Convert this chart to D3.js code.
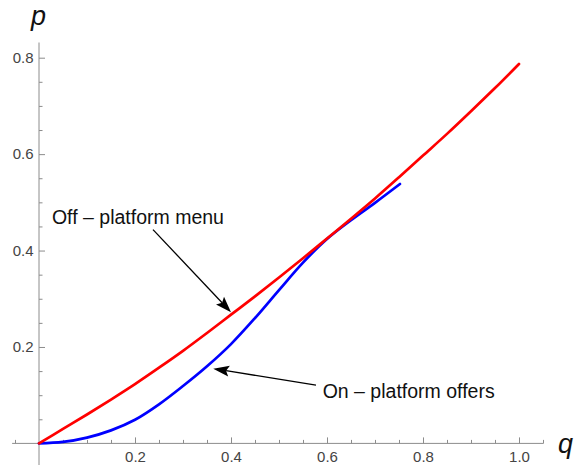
<!DOCTYPE html>
<html>
<head>
<meta charset="utf-8">
<script src="https://cdn.jsdelivr.net/npm/d3@7"></script>
<style>
  html, body { margin: 0; padding: 0; background: #fff; }
  svg { display: block; }
  text { font-family: "Liberation Sans", Arial, sans-serif; }
</style>
</head>
<body>
<svg id="chart" width="575" height="465"></svg>
<script>
// Price p as a function of quality q for the two selling channels
const qOff = [0, 0.05, 0.1, 0.15, 0.2, 0.25, 0.3, 0.35, 0.4, 0.45, 0.5, 0.55, 0.6, 0.65, 0.7, 0.75, 0.8, 0.85, 0.9, 0.95, 1.0];
const pOff = [0, 0.030, 0.060, 0.091, 0.123, 0.157, 0.192, 0.229, 0.267, 0.305, 0.344, 0.384, 0.425, 0.466, 0.508, 0.552, 0.597, 0.642, 0.689, 0.737, 0.787];

const qOn = [0, 0.05, 0.1, 0.15, 0.2, 0.25, 0.3, 0.35, 0.4, 0.45, 0.5, 0.55, 0.6, 0.65, 0.7, 0.752];
const pOn = [0, 0.003, 0.012, 0.027, 0.049, 0.081, 0.119, 0.160, 0.206, 0.260, 0.318, 0.375, 0.424, 0.463, 0.499, 0.538];

const xTicks = [0.2, 0.4, 0.6, 0.8, 1.0];
const yTicks = [0.2, 0.4, 0.6, 0.8];
const xMinorTicks = [-0.05, 0.05, 0.1, 0.15, 0.25, 0.3, 0.35, 0.45, 0.5, 0.55, 0.65, 0.7, 0.75, 0.85, 0.9, 0.95, 1.05];
const yMinorTicks = [0.05, 0.1, 0.15, 0.25, 0.3, 0.35, 0.45, 0.5, 0.55, 0.65, 0.7, 0.75];

const labelOff = "Off – platform menu";
const labelOn = "On – platform offers";

const svg = d3.select("#chart");

const x = d3.scaleLinear().domain([0, 1]).range([39, 519]);
const y = d3.scaleLinear().domain([0, 0.8]).range([443.4, 57.7]);

const axisColor = "#8c8c8c";
const labelColor = "#444";

// axis lines, drawn across the full plot range
svg.append("line")
  .attr("x1", x(-0.056)).attr("x2", x(1.051))
  .attr("y1", y(0)).attr("y2", y(0))
  .attr("stroke", axisColor).attr("stroke-width", 1);
svg.append("line")
  .attr("x1", x(0)).attr("x2", x(0))
  .attr("y1", y(0.8315)).attr("y2", y(-0.05))
  .attr("stroke", axisColor).attr("stroke-width", 1);

function styleAxis(g) {
  g.select(".domain").remove();
  g.attr("font-size", 15).attr("font-family", "'Liberation Sans', Arial, sans-serif");
  g.selectAll(".tick line").attr("stroke", axisColor);
  g.selectAll(".tick text").attr("fill", labelColor);
}

// x axis: ticks point up into the plot, labels below
svg.append("g")
  .attr("transform", `translate(0,${y(0)})`)
  .call(d3.axisBottom(x).tickValues(xMinorTicks).tickSize(-3.5).tickFormat(""))
  .call(styleAxis);
svg.append("g")
  .attr("transform", `translate(0,${y(0)})`)
  .call(d3.axisBottom(x).tickValues(xTicks).tickSize(-6).tickPadding(8).tickFormat(d3.format(".1f")))
  .call(styleAxis);

// y axis: ticks point right, labels on the left
svg.append("g")
  .attr("transform", `translate(${x(0)},0)`)
  .call(d3.axisLeft(y).tickValues(yMinorTicks).tickSize(-3.5).tickFormat(""))
  .call(styleAxis);
svg.append("g")
  .attr("transform", `translate(${x(0)},0)`)
  .call(d3.axisLeft(y).tickValues(yTicks).tickSize(-6).tickPadding(5.5).tickFormat(d3.format(".1f")))
  .call(styleAxis);

// axis titles
svg.append("text")
  .attr("x", 31).attr("y", 25)
  .attr("font-size", 27).attr("font-style", "italic")
  .attr("fill", "#111").text("p");
svg.append("text")
  .attr("x", 558).attr("y", 453)
  .attr("font-size", 27).attr("font-style", "italic")
  .attr("fill", "#111").text("q");

// curves
const line = d3.line().x(d => x(d[0])).y(d => y(d[1])).curve(d3.curveCatmullRom.alpha(0.5));

svg.append("path")
  .datum(d3.zip(qOn, pOn))
  .attr("d", line)
  .attr("fill", "none").attr("stroke", "#0000ff")
  .attr("stroke-width", 2.7).attr("stroke-linecap", "round");

svg.append("path")
  .datum(d3.zip(qOff, pOff))
  .attr("d", line)
  .attr("fill", "none").attr("stroke", "#ff0000")
  .attr("stroke-width", 2.7).attr("stroke-linecap", "round");

// annotations: label plus arrow pointing to the curve (data coordinates)
const notes = [
  { text: labelOff, tx: 0.027, ty: 0.456, from: [0.2375, 0.4435], to: [0.4, 0.272] },
  { text: labelOn, tx: 0.591, ty: 0.0935, from: [0.577, 0.121], to: [0.363, 0.155] }
];

function arrow(g, x1, y1, x2, y2) {
  const ang = Math.atan2(y2 - y1, x2 - x1);
  const len = 16, half = 5.5, notch = 3;
  const bx = x2 - len * Math.cos(ang), by = y2 - len * Math.sin(ang);
  g.append("line")
    .attr("x1", x1).attr("y1", y1)
    .attr("x2", bx + notch * Math.cos(ang)).attr("y2", by + notch * Math.sin(ang))
    .attr("stroke", "#000").attr("stroke-width", 1.3);
  const px = -Math.sin(ang), py = Math.cos(ang);
  const pts = [
    [x2, y2],
    [bx + half * px, by + half * py],
    [bx + notch * Math.cos(ang), by + notch * Math.sin(ang)],
    [bx - half * px, by - half * py]
  ];
  g.append("path")
    .attr("d", "M" + pts.map(p => p.join(",")).join("L") + "Z")
    .attr("fill", "#000");
}

const ann = svg.append("g");
notes.forEach(n => {
  ann.append("text")
    .attr("x", x(n.tx)).attr("y", y(n.ty))
    .attr("font-size", 19.5).attr("fill", "#111")
    .text(n.text);
  arrow(ann, x(n.from[0]), y(n.from[1]), x(n.to[0]), y(n.to[1]));
});
</script>
</body>
</html>
